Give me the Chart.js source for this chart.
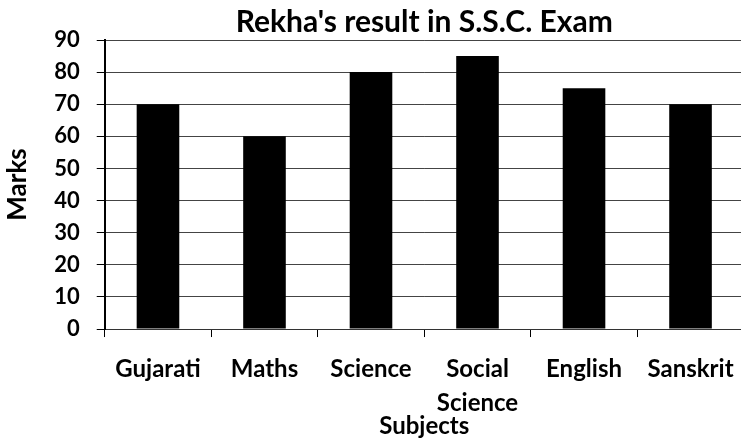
<!DOCTYPE html>
<html lang="en">

<head>
  <meta charset="UTF-8">
  <title>Rekha's result in S.S.C. Exam</title>
  <style>
    html, body { margin: 0; padding: 0; background: #fff; overflow: hidden; }
    #wrap { width: 749px; height: 441px; }
  </style>
</head>

<body>
  <div id="wrap">
    <canvas id="myChart"></canvas>
  </div>

  <script src="https://cdn.jsdelivr.net/npm/chart.js"></script>
  <script>
    // data
    const subjects = ["Gujarati", "Maths", "Science", ["Social", "Science"], "English", "Sanskrit"];
    const marks = [70, 60, 80, 85, 75, 70];
    const yTicks = [0, 10, 20, 30, 40, 50, 60, 70, 80, 90];

    const font = "Lato, 'Open Sans', sans-serif";

    const ctx = document.getElementById('myChart');
    new Chart(ctx, {
      type: 'bar',
      data: {
        labels: subjects,
        datasets: [{
          label: 'Marks',
          data: marks,
          backgroundColor: '#000',
          categoryPercentage: 1,
          barPercentage: 0.4
        }]
      },
      options: {
        responsive: true,
        maintainAspectRatio: false,
        animation: false,
        layout: { padding: { left: 0, right: 0, top: 0, bottom: 0 } },
        plugins: {
          legend: { display: false },
          tooltip: { enabled: false },
          title: {
            display: true,
            text: "Rekha's result in S.S.C. Exam",
            color: '#000',
            fullSize: false,
            font: { family: font, size: 30, weight: 'bold', lineHeight: 1.2 },
            padding: { top: 4, bottom: 0 }
          }
        },
        scales: {
          x: {
            offset: true,
            grid: {
              offset: true,
              drawOnChartArea: false,
              drawTicks: true,
              tickLength: 8,
              tickColor: '#000'
            },
            border: { color: '#333', width: 1 },
            ticks: {
              color: '#000',
              padding: 15,
              maxRotation: 0,
              font: { family: font, size: 24, weight: 'bold', lineHeight: 1.42 }
            },
            title: {
              display: true,
              text: 'Subjects',
              color: '#000',
              font: { family: font, size: 24, weight: 'bold', lineHeight: 1.2 },
              padding: { top: -23, bottom: 0 }
            }
          },
          y: {
            min: 0,
            max: 90,
            afterBuildTicks: function (scale) {
              scale.ticks = yTicks.map(function (v) { return { value: v }; });
            },
            grid: {
              color: '#444',
              lineWidth: 1,
              tickLength: 8,
              tickColor: '#000'
            },
            border: { color: '#000', width: 2 },
            ticks: {
              color: '#000',
              padding: 17,
              font: { family: font, size: 22, weight: 'bold' }
            },
            title: {
              display: true,
              text: 'Marks',
              color: '#000',
              font: { family: font, size: 26, weight: 'bold', lineHeight: 1.2 },
              padding: { top: 2, bottom: 4 }
            }
          }
        }
      }
    });
  </script>
</body>

</html>
